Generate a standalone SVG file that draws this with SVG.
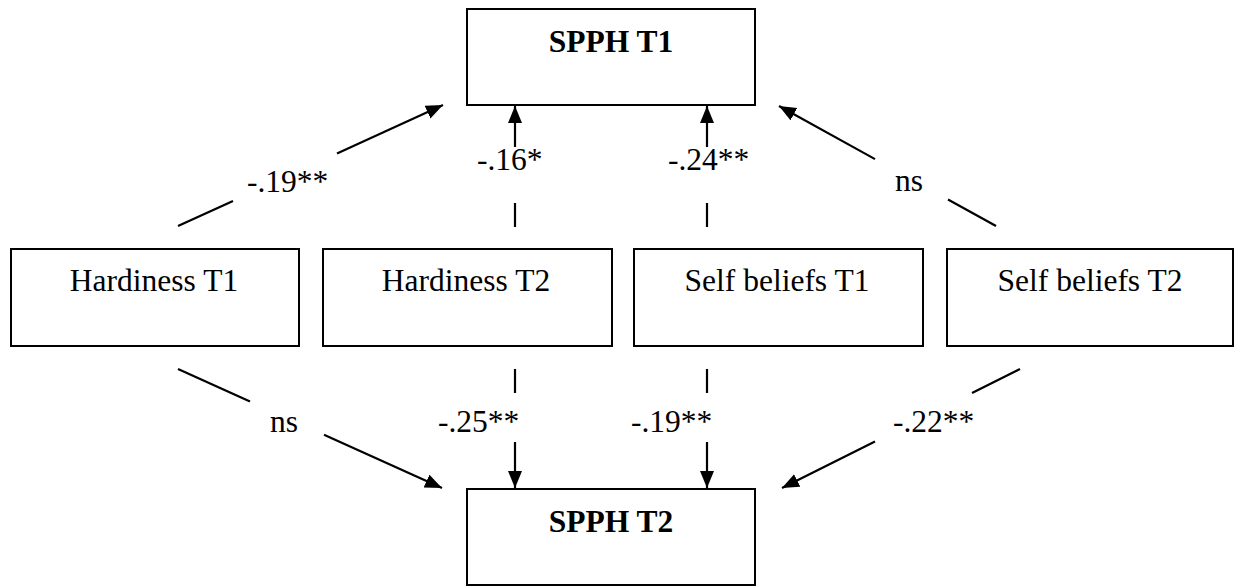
<svg xmlns="http://www.w3.org/2000/svg" width="1236" height="586" viewBox="0 0 1236 586">
<style>
.box{fill:#fff;stroke:#000;stroke-width:2}
.t{font-family:"Liberation Serif","Times New Roman",serif;font-size:31.5px;fill:#000;text-anchor:middle}
.b{font-weight:bold}
.l{font-family:"Liberation Serif","Times New Roman",serif;font-size:31.5px;fill:#000}
.c{stroke:#000;stroke-width:2.2;fill:none}
.a{marker-end:url(#ah)}
</style>
<defs>
<marker id="ah" markerUnits="userSpaceOnUse" markerWidth="18" markerHeight="16" refX="17" refY="7" orient="auto">
<path d="M0,0 L17,7 L0,14 z" fill="#000"/>
</marker>
</defs>
<rect width="1236" height="586" fill="#fff"/>
<g id="spph-t1"><rect class="box" x="467" y="9" width="288" height="96"/><text class="t b" x="611" y="52">SPPH T1</text></g>
<g id="spph-t2"><rect class="box" x="467" y="489" width="288" height="96"/><text class="t b" x="611" y="532">SPPH T2</text></g>
<g id="hardiness-t1"><rect class="box" x="11" y="249" width="288" height="97"/><text class="t" x="154" y="291">Hardiness T1</text></g>
<g id="hardiness-t2"><rect class="box" x="323" y="249" width="289" height="97"/><text class="t" x="466" y="291">Hardiness T2</text></g>
<g id="self-beliefs-t1"><rect class="box" x="634" y="249" width="289" height="97"/><text class="t" x="777" y="291">Self beliefs T1</text></g>
<g id="self-beliefs-t2"><rect class="box" x="947" y="249" width="286" height="97"/><text class="t" x="1090" y="291">Self beliefs T2</text></g>
<g id="connectors">
<line class="c" x1="178" y1="226" x2="233" y2="201"/>
<line class="c a" x1="337" y1="153.4" x2="443" y2="105"/>
<line class="c" x1="515" y1="227" x2="515" y2="203"/>
<line class="c a" x1="515" y1="147" x2="515" y2="106"/>
<line class="c" x1="707" y1="227" x2="707" y2="203"/>
<line class="c a" x1="707" y1="147" x2="707" y2="106"/>
<line class="c" x1="996" y1="226" x2="948" y2="199.5"/>
<line class="c a" x1="875" y1="159.1" x2="779" y2="106"/>
<line class="c" x1="178" y1="369" x2="250" y2="401.5"/>
<line class="c a" x1="324" y1="434.8" x2="442" y2="488"/>
<line class="c" x1="515" y1="369" x2="515" y2="393"/>
<line class="c a" x1="515" y1="442" x2="515" y2="488"/>
<line class="c" x1="707" y1="369" x2="707" y2="393"/>
<line class="c a" x1="707" y1="442" x2="707" y2="488"/>
<line class="c" x1="1020" y1="369" x2="972" y2="393"/>
<line class="c a" x1="875" y1="441.5" x2="782" y2="488"/>
<text class="l" x="247" y="192">-.19**</text>
<text class="l" x="477" y="170">-.16*</text>
<text class="l" x="668" y="170">-.24**</text>
<text class="l" x="895" y="191">ns</text>
<text class="l" x="270" y="432">ns</text>
<text class="l" x="438" y="432">-.25**</text>
<text class="l" x="631" y="432">-.19**</text>
<text class="l" x="893" y="432">-.22**</text>
</g>
</svg>
